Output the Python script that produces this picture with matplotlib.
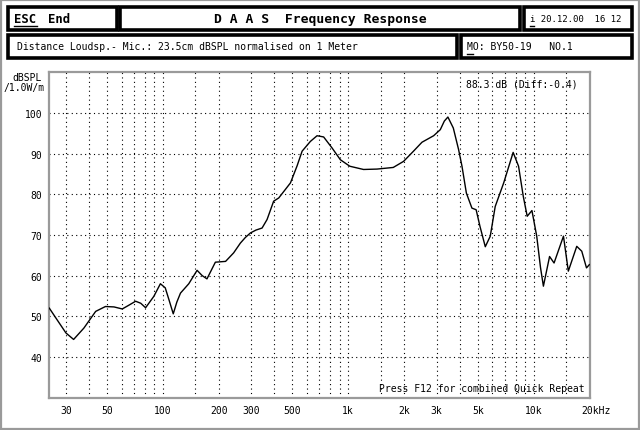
#!/usr/bin/env python3
import matplotlib
matplotlib.use("Agg")
import matplotlib.pyplot as plt
from matplotlib.patches import Rectangle
from matplotlib.lines import Line2D
import matplotlib.transforms as mtransforms

# ─── data ──────────────────────────────────────────────────────────────────────
FREQ_HZ = [24.4, 27, 30, 33, 37.5, 43.4, 49, 54.5, 60.4, 66, 71.3, 76, 80.7,
           89.4, 97, 103, 108, 113.8, 119, 124.5, 138, 153, 163, 173, 192,
           218, 241, 262, 279, 297, 318, 343, 365, 396, 422, 488, 530, 564,
           625, 679, 737, 818, 907, 1020, 1210, 1430, 1750, 1990, 2250, 2500,
           2890, 3140, 3300, 3450, 3690, 3940, 4110, 4340, 4650, 4900, 5140,
           5490, 5840, 6210, 6900, 7760, 8300, 8800, 9240, 9800, 10400,
           10900, 11300, 12200, 12900, 14500, 15400, 17100, 18200, 19300,
           20000]
SPL_DB = [52.0, 49.0, 45.9, 44.3, 47.1, 51.2, 52.4, 52.3, 51.8, 52.8, 53.7,
          53.2, 52.1, 54.9, 58.0, 57.0, 54.0, 50.6, 53.5, 55.7, 58.0, 61.3,
          60.0, 59.2, 63.3, 63.5, 65.6, 68.0, 69.4, 70.5, 71.2, 71.7, 73.8,
          78.3, 79.1, 82.8, 87.0, 90.6, 93.0, 94.4, 94.1, 91.4, 88.5, 86.9,
          86.1, 86.2, 86.6, 88.1, 90.6, 92.8, 94.4, 95.9, 98.0, 99.0, 96.3,
          91.0, 86.9, 80.3, 76.6, 76.2, 72.1, 67.1, 69.7, 77.0, 82.8, 90.3,
          86.9, 79.5, 74.6, 76.0, 69.7, 62.0, 57.4, 64.7, 63.1, 69.7, 61.1,
          67.2, 66.0, 61.9, 62.7]

X_TICKS = [30, 50, 100, 200, 300, 500, 1000, 2000, 3000, 5000, 10000]
X_LABELS = ["30", "50", "100", "200", "300", "500", "1k", "2k", "3k", "5k", "10k"]
Y_TICKS = [40, 50, 60, 70, 80, 90, 100]
GRID_FREQS = [30, 40, 50, 60, 70, 80, 90,
              100, 150, 200, 300, 400, 500, 600, 700, 800, 900,
              1000, 1500, 2000, 3000, 4000, 5000, 6000, 7000, 8000, 9000,
              10000, 15000]

W, H = 640, 431
MONO = "DejaVu Sans Mono"
FRAME_GREY = "#9a9a9a"

fig = plt.figure(figsize=(W / 100, H / 100), dpi=100)
fig.patch.set_facecolor("white")


def px_box(x0, y0, x1, y1, lw=2.6, color="black"):
    fig.add_artist(Rectangle((x0 / W, 1 - y1 / H), (x1 - x0) / W, (y1 - y0) / H,
                             transform=fig.transFigure, fill=False,
                             lw=lw, edgecolor=color))


def px_text(x, y, s, **kw):
    fig.text(x / W, 1 - y / H, s, family=MONO, **kw)


def px_line(x0, x1, y, lw=1.0):
    fig.add_artist(Line2D([x0 / W, x1 / W], [1 - y / H, 1 - y / H],
                          transform=fig.transFigure, color="black", lw=lw))


# outer dithered frame
px_box(1, 1, 639, 430, lw=1.6, color=FRAME_GREY)

# header boxes
px_box(8, 8, 117, 31)
px_box(120, 8, 520, 31)
px_box(524, 8, 632, 31)
px_box(8, 36, 457, 59)
px_box(461, 36, 632, 59)

px_text(14, 19.5, "ESC", fontsize=8.8, weight="bold", va="center")
px_line(14, 37, 27)
px_text(48, 19.5, "End", fontsize=8.8, weight="bold", va="center")
px_text(320, 20, "D A A S  Frequency Response", fontsize=9.4, weight="bold",
        ha="center", va="center")
px_text(530, 19.5, "i 20.12.00  16 12", fontsize=6.5, va="center")
px_line(530, 534, 27)
px_text(17, 47.5, "Distance Loudsp.- Mic.: 23.5cm dBSPL normalised on 1 Meter",
        fontsize=7, va="center")
px_text(467, 47.5, "MO: BY50-19   NO.1", fontsize=7, va="center")
px_line(467, 473, 55)

# ─── plot area ─────────────────────────────────────────────────────────────────
ax = fig.add_axes([49.3 / W, 1 - 398.6 / H, (590 - 49.3) / W, (398.6 - 73.3) / H])
ax.set_xscale("log")
ax.set_xlim(24.4, 20160)
ax.set_ylim(30, 110)

for f in GRID_FREQS:
    ax.axvline(f, color="black", lw=0.8, ls=(0, (1, 3)), zorder=1)
for v in Y_TICKS:
    ax.axhline(v, color="black", lw=0.8, ls=(0, (1, 3)), zorder=1)

ax.plot(FREQ_HZ, SPL_DB, color="black", lw=1.0, zorder=3)

ax.set_xticks(X_TICKS)
ax.set_xticklabels(X_LABELS, family=MONO, fontsize=7)
ax.xaxis.set_minor_locator(matplotlib.ticker.NullLocator())
ax.set_yticks(Y_TICKS)
ax.set_yticklabels([str(v) for v in Y_TICKS], family=MONO, fontsize=7)
ax.tick_params(length=0, pad=5)
ax.tick_params(axis="y", pad=5)

for sp in ax.spines.values():
    sp.set_color(FRAME_GREY)
    sp.set_linewidth(1.6)

# last x label sits with its "20k" under the right edge
off = mtransforms.offset_copy(ax.get_xaxis_transform(), fig=fig, x=-6, y=-5,
                              units="points")
ax.text(20000, 0, "20kHz", transform=off, family=MONO, fontsize=7,
        ha="left", va="top")

px_text(12, 78, "dBSPL", fontsize=7, va="center")
px_text(4, 88, "/1.0W/m", fontsize=7, va="center")

ax.text(0.771, 0.965, "88.3 dB (Diff:-0.4)", transform=ax.transAxes,
        family=MONO, fontsize=7, ha="left", va="center")
ax.text(0.61, 0.015, "Press F12 for combined Quick Repeat",
        transform=ax.transAxes, family=MONO, fontsize=7, ha="left",
        va="bottom")

plt.savefig("out.png", dpi=100)
